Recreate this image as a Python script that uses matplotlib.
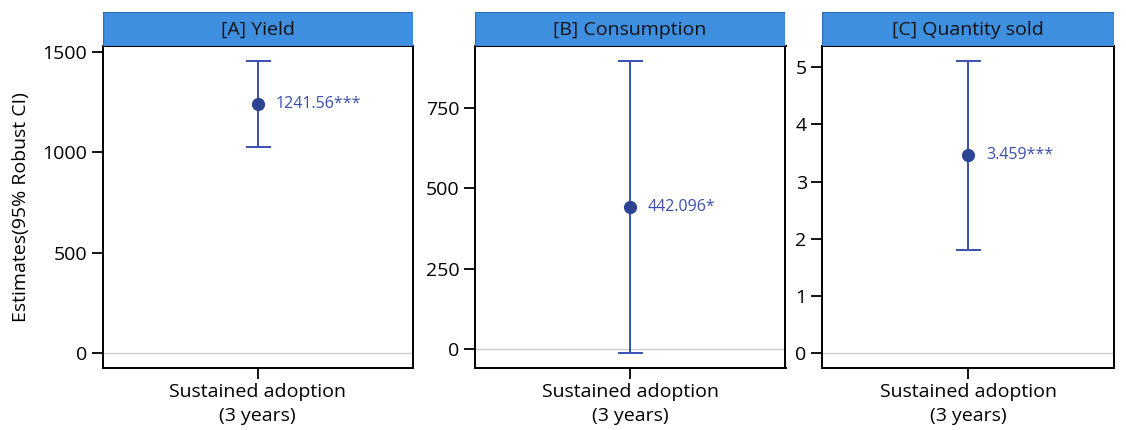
import matplotlib
matplotlib.use("Agg")
import matplotlib.pyplot as plt
from matplotlib.patches import Rectangle

plt.rcParams['font.family'] = ['Open Sans', 'DejaVu Sans']

# Estimates with 95% robust confidence intervals
panels = ["[A] Yield", "[B] Consumption", "[C] Quantity sold"]
category = "Sustained adoption\n(3 years)"
estimates = [1241.56, 442.096, 3.459]
ci_low = [1027.0, -13.0, 1.81]
ci_high = [1456.0, 897.0, 5.11]
labels = ["1241.56***", "442.096*", "3.459***"]
yticks = [[0, 500, 1000, 1500], [0, 250, 500, 750], [0, 1, 2, 3, 4, 5]]

W, H = 1126, 430
fig = plt.figure(figsize=(W / 100, H / 100), dpi=100)

# panel frames in pixels: (left, right)
xs = [(102.5, 413), (474.5, 785.5), (822, 1114)]
top_px, bot_px, strip_top = 46, 368, 11.5

point_color = "#2D4494"
bar_color = "#3A4FAE"
strip_color = "#3F8FE0"

for i in range(3):
    l, r = xs[i]
    ax = fig.add_axes([l / W, 1 - bot_px / H, (r - l) / W, (bot_px - top_px) / H])
    lo = min(0, ci_low[i])
    hi = max(0, ci_high[i])
    span = hi - lo
    ax.set_ylim(lo - 0.05 * span, hi + 0.05 * span)
    ax.set_xlim(-1, 1)
    ax.axhline(0, color="#cccccc", lw=1.0, zorder=1)
    ax.errorbar([0], [estimates[i]],
                yerr=[[estimates[i] - ci_low[i]], [ci_high[i] - estimates[i]]],
                fmt="none", ecolor=bar_color, elinewidth=1.4, capsize=9,
                capthick=1.4, zorder=2)
    ax.plot([0], [estimates[i]], "o", color=point_color, ms=8.5, zorder=3)
    ax.annotate(labels[i], (0, estimates[i]), xytext=(13, 0),
                textcoords="offset points", va="center", ha="left",
                color=bar_color, fontsize=11.5)
    ax.set_xticks([0])
    ax.set_xticklabels([category], fontsize=14, linespacing=1.4)
    ax.set_yticks(yticks[i])
    ax.set_yticklabels([str(t) for t in yticks[i]], fontsize=14)
    ax.tick_params(axis="both", length=8, width=1.3, color="black", pad=3)
    for s in ax.spines.values():
        s.set_linewidth(1.4)
        s.set_color("black")
    if i == 0:
        ax.set_ylabel("Estimates(95% Robust CI)", fontsize=14, labelpad=9)

    # facet strip
    sax = fig.add_axes([l / W, 1 - top_px / H, (r - l) / W, (top_px - strip_top) / H])
    sax.set_xlim(0, 1)
    sax.set_ylim(0, 1)
    sax.add_patch(Rectangle((0, 0), 1, 1, facecolor=strip_color,
                            edgecolor="#2F6FB8", lw=1.0, transform=sax.transAxes))
    sax.text(0.5, 0.47, panels[i], ha="center", va="center", fontsize=14,
             color="#111111")
    sax.axis("off")

fig.savefig("out.png", dpi=100)
